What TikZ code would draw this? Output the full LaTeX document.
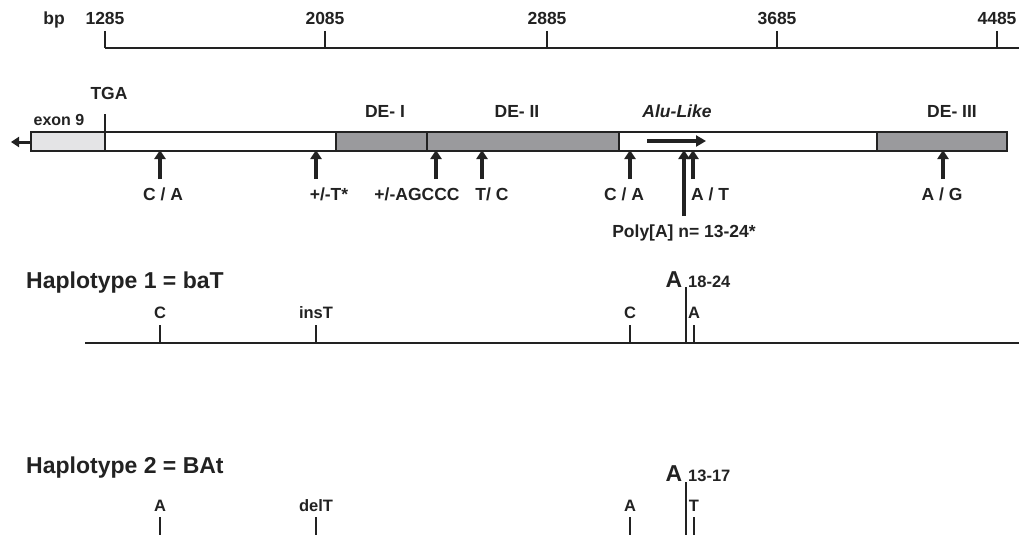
\documentclass[tikz,border=0pt]{standalone}
\usepackage{fontspec}
\setmainfont{Liberation Sans}
\usetikzlibrary{arrows.meta}
\definecolor{ink}{HTML}{222222}
\definecolor{exonfill}{HTML}{E4E4E6}
\definecolor{defill}{HTML}{9A9A9D}
\begin{document}
\begin{tikzpicture}[x=1pt,y=-1pt,
  lbl/.style={font=\fontsize{17.5}{20}\selectfont\bfseries, text=ink, anchor=base, inner sep=0pt},
  ttl/.style={font=\fontsize{23}{26}\selectfont\bfseries, text=ink, anchor=base west, inner sep=0pt},
  hlbl/.style={font=\fontsize{16.5}{18}\selectfont\bfseries, text=ink, anchor=base, inner sep=0pt},
  bigA/.style={font=\fontsize{23}{25}\selectfont\bfseries, text=ink, anchor=base, inner sep=0pt},
  rep/.style={font=\fontsize{16.5}{18}\selectfont\bfseries, text=ink, anchor=base west, inner sep=0pt},
  ruler/.style={draw=ink, line width=1.8pt},
  tickline/.style={draw=ink, line width=1.4pt},
  barline/.style={draw=ink, line width=1.4pt},
  mut/.style={draw=ink, line width=3.2pt, -{Triangle[length=9pt,width=11pt]}},
  haplo/.style={draw=ink, line width=2pt}
]
\useasboundingbox (0,0) rectangle (1019,535);

% ---- base-pair ruler ----
\node[lbl] (bp) at (54,25) {bp};
\coordinate (rulerL) at (105,48);
\coordinate (rulerR) at (1019,48);
\draw[ruler] (rulerL) -- (rulerR);
\foreach \x/\v in {105/1285, 325/2085, 547/2885, 777/3685, 997/4485}{
  \coordinate (rt\v) at (\x,31);
  \coordinate (rb\v) at (\x,48);
  \draw[tickline] (rt\v) -- (rb\v);
  \node[lbl] (rn\v) at (\x,25) {\v};
}

% ---- gene segment ----
\fill[exonfill] (31,132) rectangle (105,151);
\fill[white] (105,132) rectangle (336,151);
\fill[defill] (336,132) rectangle (619,151);
\fill[white] (619,132) rectangle (877,151);
\fill[defill] (877,132) rectangle (1007,151);
\draw[barline] (31,132) rectangle (1007,151);
\draw[barline] (336,132) -- (336,151);
\draw[barline] (427,132) -- (427,151);
\draw[barline] (619,132) -- (619,151);
\draw[barline] (877,132) -- (877,151);
\coordinate (tgaTop) at (105,114);
\coordinate (tgaBot) at (105,151);
\draw[barline] (tgaTop) -- (tgaBot);

% direction of transcription at exon 9
\coordinate (dirS) at (31,142);
\coordinate (dirE) at (11,142);
\draw[draw=ink, line width=3pt, -{Triangle[length=8pt,width=10pt]}] (dirS) -- (dirE);

% segment labels
\node[lbl] (tga) at (109,99) {TGA};
\node[lbl, font=\fontsize{16}{18}\selectfont\bfseries] (exon) at (59,125) {exon 9};
\node[lbl] (de1) at (385,117) {DE- I};
\node[lbl] (de2) at (517,117) {DE- II};
\node[lbl, font=\fontsize{17.5}{20}\selectfont\bfseries\itshape] (alu) at (677,117) {Alu-Like};
\node[lbl] (de3) at (952,117) {DE- III};

% Alu orientation
\coordinate (aluS) at (647,141);
\coordinate (aluE) at (706,141);
\draw[draw=ink, line width=3.2pt, -{Triangle[length=10pt,width=11pt]}] (aluS) -- (aluE);

% ---- polymorphic sites ----
\foreach \n/\x in {m1/160, m2/316, m3/436, m4/482, m5/630, m7/693, m8/943}{
  \coordinate (\n t) at (\x,179);
  \coordinate (\n h) at (\x,150);
  \draw[mut] (\n t) -- (\n h);
}
\coordinate (m6t) at (684,216);
\coordinate (m6h) at (684,150);
\draw[mut] (m6t) -- (m6h);

\node[lbl] (l1) at (163,200) {C / A};
\node[lbl] (l2) at (329,200) {+/-T*};
\node[lbl] (l3) at (417,200) {+/-AGCCC};
\node[lbl] (l4) at (492,200) {T/ C};
\node[lbl] (l5) at (624,200) {C / A};
\node[lbl] (l7) at (710,200) {A / T};
\node[lbl] (l8) at (942,200) {A / G};
\node[lbl] (l6) at (684,237) {Poly[A] n= 13-24*};

% ---- haplotype 1 ----
\node[ttl] (h1) at (26,288) {Haplotype 1 = baT};
\coordinate (h1L) at (85,343);
\coordinate (h1R) at (1019,343);
\draw[haplo] (h1L) -- (h1R);
\foreach \n/\x/\t in {a/160/C, b/316/insT, c/630/C, d/694/A}{
  \coordinate (h1\n top) at (\x,325);
  \coordinate (h1\n bot) at (\x,343);
  \draw[tickline] (h1\n top) -- (h1\n bot);
  \node[hlbl] (h1\n lab) at (\x,318) {\t};
}
\coordinate (h1pTop) at (686,287);
\coordinate (h1pBot) at (686,343);
\draw[tickline] (h1pTop) -- (h1pBot);
\node[bigA] (h1A) at (674,287) {A};
\node[rep] (h1n) at (688,287) {18-24};

% ---- haplotype 2 ----
\node[ttl] (h2) at (26,473) {Haplotype 2 = BAt};
\foreach \n/\x/\t in {a/160/A, b/316/delT, c/630/A, d/694/T}{
  \coordinate (h2\n top) at (\x,517);
  \coordinate (h2\n bot) at (\x,535);
  \draw[tickline] (h2\n top) -- (h2\n bot);
  \node[hlbl] (h2\n lab) at (\x,511) {\t};
}
\coordinate (h2pTop) at (686,482);
\coordinate (h2pBot) at (686,535);
\draw[tickline] (h2pTop) -- (h2pBot);
\node[bigA] (h2A) at (674,481) {A};
\node[rep] (h2n) at (688,481) {13-17};
\end{tikzpicture}
\end{document}
